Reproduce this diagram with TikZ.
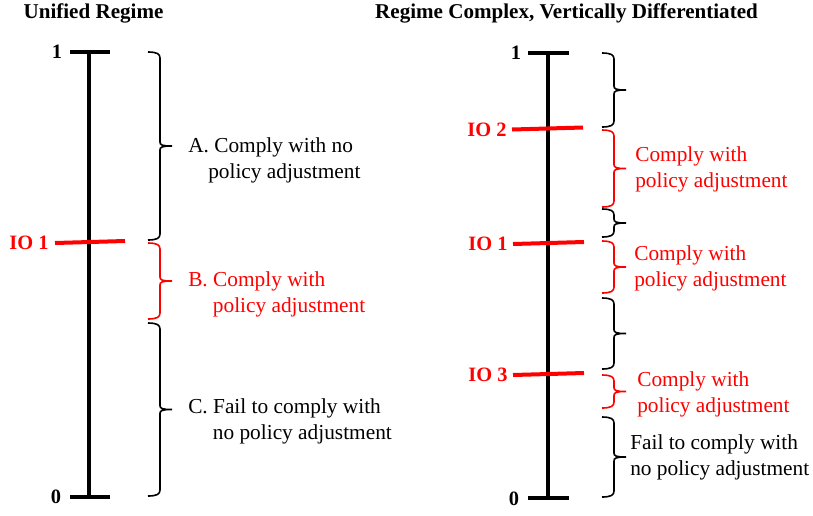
\documentclass[tikz,border=0pt]{standalone}
\usepackage{fontspec}
\setmainfont{Liberation Serif}
\usetikzlibrary{positioning}
\definecolor{iored}{RGB}{255,0,0}
% brace: colour, left x, top y, bottom y, name of tip
\newcommand{\brc}[5]{%
  \draw[brc,#1] (#2,#3) .. controls ({#2+9},#3) and ({#2+12},{#3+2}) .. ({#2+12},{#3+6})
    -- ({#2+12},{(#3+#4)/2-4}) .. controls ({#2+12},{(#3+#4)/2-1}) and ({#2+14},{(#3+#4)/2}) .. ({#2+24},{(#3+#4)/2})
    coordinate (#5)
    .. controls ({#2+14},{(#3+#4)/2}) and ({#2+12},{(#3+#4)/2+1}) .. ({#2+12},{(#3+#4)/2+4})
    -- ({#2+12},{#4-6}) .. controls ({#2+12},{#4-2}) and ({#2+9},#4) .. (#2,#4);}

\begin{document}
\begin{tikzpicture}[x=0.75pt,y=-0.75pt]
  \tikzstyle{every node}+=[inner sep=0pt]
  \tikzstyle{axis}=[line width=3pt]
  \tikzstyle{iotick}=[line width=3pt,iored]
  \tikzstyle{brc}=[line width=1.2pt]
  \tikzstyle{head}=[font=\fontsize{15.8}{18}\selectfont\bfseries]
  \tikzstyle{endlab}=[font=\fontsize{15.3}{18}\selectfont\bfseries]
  \tikzstyle{iolab}=[font=\fontsize{15.3}{18}\selectfont\bfseries,iored]
  \tikzstyle{desc}=[font=\fontsize{16}{19.5}\selectfont,align=left,anchor=west]
  \useasboundingbox (0,0) rectangle (813,515);

  % unified regime
  \node[head] (uTitle) at (93.5,13) {Unified Regime};
  \coordinate (uTop) at (89,52);
  \coordinate (uBot) at (89,497);
  \draw[axis] (uTop) -- (uBot);
  \draw[axis] (70,52) -- (110,52);
  \draw[axis] (70,497) -- (110,497);
  \node[endlab] (uOne) at (57,52) {1};
  \node[endlab] (uZero) at (56,497) {0};
  \draw[iotick] (55,243) -- (125,241);
  \node[iolab] (uIO1) at (29,242.5) {IO 1};
  \brc{black}{148}{52}{240}{uTipA}
  \brc{iored}{148}{243}{319}{uTipB}
  \brc{black}{148}{323}{496}{uTipC}
  \node[desc] (uA) at (188,160) {A. Comply with no\\\hspace*{15pt}policy adjustment};
  \node[desc,iored] (uB) at (188,294) {B. Comply with\\\hspace*{18.5pt}policy adjustment};
  \node[desc] (uC) at (188,421) {C. Fail to comply with\\\hspace*{18.5pt}no policy adjustment};

  % regime complex
  \node[head] (cTitle) at (566.5,13) {Regime Complex, Vertically Differentiated};
  \coordinate (cTop) at (548,53);
  \coordinate (cBot) at (548,498);
  \draw[axis] (cTop) -- (cBot);
  \draw[axis] (528,53) -- (569,53);
  \draw[axis] (528,498) -- (569,498);
  \node[endlab] (cOne) at (516,53) {1};
  \node[endlab] (cZero) at (514,499) {0};
  \draw[iotick] (512,129.5) -- (583,127.5);
  \draw[iotick] (513,244) -- (584,242);
  \draw[iotick] (513,375) -- (584,373);
  \node[iolab] (cIO2) at (487,129.5) {IO 2};
  \node[iolab] (cIO1) at (488,243.5) {IO 1};
  \node[iolab] (cIO3) at (488,374.5) {IO 3};
  \brc{black}{602}{53}{127}{cTip1}
  \brc{iored}{602}{130}{207}{cTip2}
  \brc{black}{602}{209}{237}{cTip3}
  \brc{iored}{602}{241}{293}{cTip4}
  \brc{black}{602}{298}{369}{cTip5}
  \brc{iored}{602}{375}{408}{cTip6}
  \brc{black}{602}{417}{497}{cTip7}
  \node[desc,iored] (cB1) at (635,169.5) {Comply with\\policy adjustment};
  \node[desc,iored] (cB2) at (634,268.5) {Comply with\\policy adjustment};
  \node[desc,iored] (cB3) at (637,394) {Comply with\\policy adjustment};
  \node[desc] (cC) at (630,457.5) {Fail to comply with\\no policy adjustment};
\end{tikzpicture}
\end{document}
